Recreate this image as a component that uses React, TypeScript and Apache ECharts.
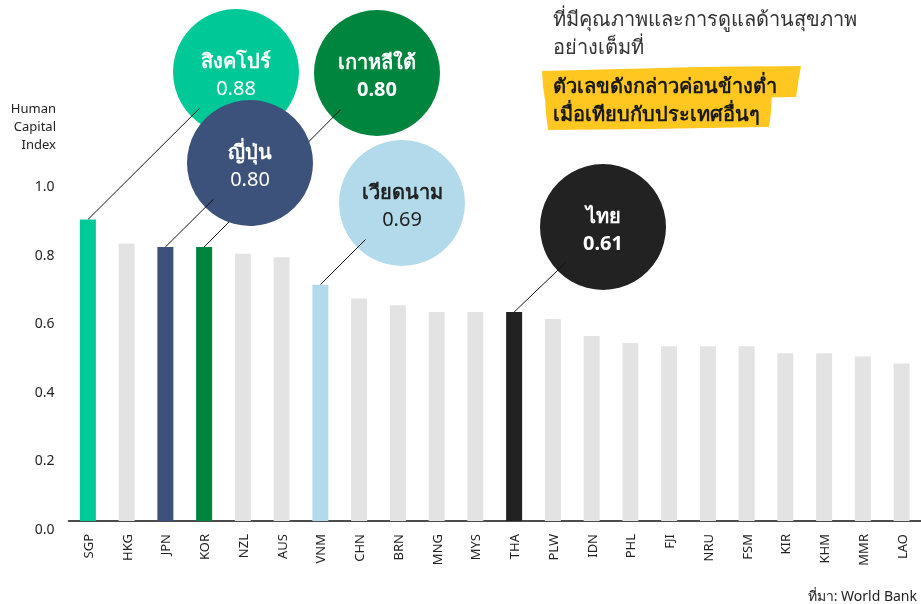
import React, { useEffect, useRef } from 'react';
import * as echarts from 'echarts';

const categories = ['SGP', 'HKG', 'JPN', 'KOR', 'NZL', 'AUS', 'VNM', 'CHN', 'BRN', 'MNG', 'MYS', 'THA', 'PLW', 'IDN', 'PHL', 'FJI', 'NRU', 'FSM', 'KIR', 'KHM', 'MMR', 'LAO'];
const hciValues = [0.88, 0.81, 0.80, 0.80, 0.78, 0.77, 0.69, 0.65, 0.63, 0.61, 0.61, 0.61, 0.59, 0.54, 0.52, 0.51, 0.51, 0.51, 0.49, 0.49, 0.48, 0.46];
const highlightCodes = ['SGP', 'KOR', 'JPN', 'VNM', 'THA'];
const highlightNames = ['สิงคโปร์', 'เกาหลีใต้', 'ญี่ปุ่น', 'เวียดนาม', 'ไทย'];
const axisTitleLines = ['Human', 'Capital', 'Index'];
const noteLines = ['ที่มีคุณภาพและการดูแลด้านสุขภาพ', 'อย่างเต็มที่'];
const emphasisLines = ['ตัวเลขดังกล่าวค่อนข้างต่ำ', 'เมื่อเทียบกับประเทศอื่นๆ'];
const sourceText = 'ที่มา: World Bank';

const FONT = '"Noto Sans", "DejaVu Sans", sans-serif';
const barColors: Record<string, string> = {
  SGP: '#00C896',
  JPN: '#3D527A',
  KOR: '#00853F',
  VNM: '#B2DAEA',
  THA: '#222222',
};
const defaultBar = '#E3E3E3';
const bubbleLayout: Record<string, { cx: number; cy: number; r: number; fill: string; color: string; valueBold: boolean }> = {
  SGP: { cx: 236, cy: 72, r: 63, fill: '#00C896', color: '#ffffff', valueBold: false },
  KOR: { cx: 377, cy: 73, r: 63, fill: '#00853F', color: '#ffffff', valueBold: true },
  JPN: { cx: 250, cy: 163, r: 63, fill: '#3D527A', color: '#ffffff', valueBold: false },
  VNM: { cx: 402, cy: 203, r: 63, fill: '#B2DAEA', color: '#222222', valueBold: false },
  THA: { cx: 603, cy: 227, r: 63, fill: '#222222', color: '#ffffff', valueBold: true },
};

export default function App() {
  const ref = useRef<HTMLDivElement>(null);
  useEffect(() => {
    if (!ref.current) return;
    const chart = echarts.init(ref.current, null, { renderer: 'svg' });
    const option: any = {
      animation: false,
      grid: { left: 68.5, top: 178.5, bottom: 83, right: -5.5 },
      xAxis: {
        type: 'category',
        data: categories,
        axisLine: { lineStyle: { color: '#111', width: 1.5 } },
        axisTick: { show: false },
        axisLabel: { rotate: 90, fontSize: 13, color: '#222', margin: 13, fontFamily: FONT },
      },
      yAxis: {
        type: 'value',
        min: 0,
        max: 1,
        interval: 0.2,
        axisLine: { show: false },
        axisTick: { show: false },
        splitLine: { show: false },
        axisLabel: {
          fontSize: 14,
          color: '#222',
          margin: 14,
          verticalAlign: 'top',
          fontFamily: FONT,
          formatter: (v: number) => v.toFixed(1),
        },
      },
      series: [
        {
          type: 'bar',
          barWidth: 16,
          data: hciValues.map((v, i) => ({
            value: v,
            itemStyle: { color: barColors[categories[i]] || defaultBar },
          })),
        },
      ],
    };
    chart.setOption(option);

    const elements: any[] = [];
    axisTitleLines.forEach((t, i) => {
      elements.push({
        type: 'text',
        x: 56,
        y: 108 + i * 18,
        style: { text: t, fill: '#222', fontSize: 13, fontFamily: FONT, align: 'right', verticalAlign: 'middle' },
      });
    });
    elements.push({
      type: 'polygon',
      shape: { points: [[542, 71], [700, 67], [801, 66], [798, 83], [796, 97], [640, 99], [545, 100], [543, 86]] },
      style: { fill: '#FFC720' },
    });
    elements.push({
      type: 'polygon',
      shape: { points: [[545, 97], [680, 96], [772, 94], [771, 112], [769, 127], [650, 129], [548, 130], [546, 114]] },
      style: { fill: '#FFC720' },
    });
    noteLines.forEach((t, i) => {
      elements.push({
        type: 'text',
        x: 553,
        y: 18 + i * 28,
        style: { text: t, fill: '#333', fontSize: 20, fontFamily: FONT, verticalAlign: 'middle' },
      });
    });
    emphasisLines.forEach((t, i) => {
      elements.push({
        type: 'text',
        x: 553,
        y: 85 + i * 28,
        style: { text: t, fill: '#1a1a1a', fontSize: 20, fontWeight: 'bold', fontFamily: FONT, verticalAlign: 'middle' },
      });
    });
    elements.push({
      type: 'text',
      x: 917,
      y: 595,
      style: { text: sourceText, fill: '#222', fontSize: 14, fontFamily: FONT, align: 'right', verticalAlign: 'middle' },
    });

    const makeLine = (code: string) => {
      const idx = categories.indexOf(code);
      const b = bubbleLayout[code];
      const p = chart.convertToPixel({ xAxisIndex: 0, yAxisIndex: 0 }, [idx, hciValues[idx]]) as number[];
      const dx = b.cx - p[0];
      const dy = b.cy - p[1];
      const d = Math.sqrt(dx * dx + dy * dy);
      const k = (d - b.r * 0.82) / d;
      return {
        type: 'line',
        shape: { x1: p[0], y1: p[1], x2: p[0] + dx * k, y2: p[1] + dy * k },
        style: { stroke: '#111', lineWidth: 1 },
      };
    };
    const makeBubble = (code: string) => {
      const b = bubbleLayout[code];
      const idx = categories.indexOf(code);
      const name = highlightNames[highlightCodes.indexOf(code)];
      return [
        { type: 'circle', shape: { cx: b.cx, cy: b.cy, r: b.r }, style: { fill: b.fill } },
        {
          type: 'text',
          x: b.cx,
          y: b.cy - 12,
          style: { text: name, fill: b.color, fontSize: 20, fontWeight: 'bold', fontFamily: FONT, align: 'center', verticalAlign: 'middle' },
        },
        {
          type: 'text',
          x: b.cx,
          y: b.cy + 15,
          style: {
            text: hciValues[idx].toFixed(2),
            fill: b.color,
            fontSize: 20,
            fontWeight: b.valueBold ? 'bold' : 'normal',
            fontFamily: FONT,
            align: 'center',
            verticalAlign: 'middle',
          },
        },
      ];
    };
    elements.push(...makeBubble('SGP'));
    elements.push(...makeBubble('KOR'));
    elements.push(makeLine('SGP'));
    elements.push(makeLine('KOR'));
    elements.push(...makeBubble('JPN'));
    elements.push(makeLine('JPN'));
    elements.push(...makeBubble('VNM'));
    elements.push(makeLine('VNM'));
    elements.push(...makeBubble('THA'));
    elements.push(makeLine('THA'));

    chart.setOption({ graphic: [{ type: 'group', children: elements }] });
    return () => chart.dispose();
  }, []);
  return <div ref={ref} style={{ position: 'fixed', left: 0, top: 0, width: 921, height: 604 }} />;
}
